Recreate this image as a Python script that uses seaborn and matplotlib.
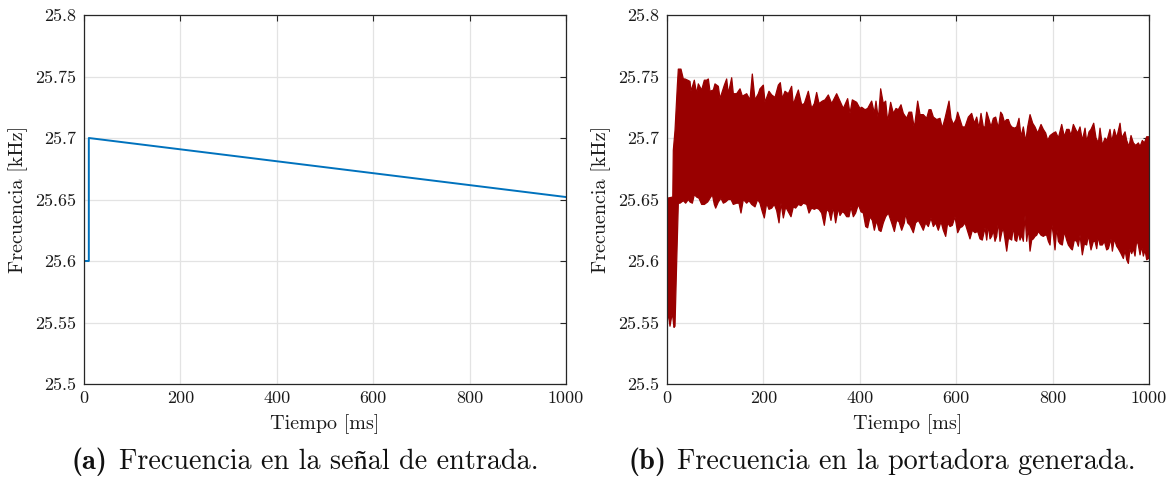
import numpy as np
import pandas as pd
import matplotlib
matplotlib.use("Agg")
import matplotlib.pyplot as plt
from matplotlib.ticker import FuncFormatter
import seaborn as sns

# ---- (a) input signal frequency: step at start, then slow linear drift ----
input_time_ms = [0, 10, 10, 1000]
input_freq_khz = [25.6, 25.6, 25.7, 25.652]

# ---- (b) generated carrier frequency: upper and lower edges of the band ----
carrier_upper_time_ms = [
    0, 12, 13.1, 16.6, 21.4, 23.5, 29.0, 33.9, 37.3, 42.9, 47.7, 49.8, 56.7, 61.5,
    65.0, 71.9, 77.5, 82.3, 85.8, 89.2, 96.1, 99.6, 106.5, 110.0, 119.0, 123.8,
    127.2, 134.2, 137.6, 144.5, 151.5, 156.3, 165.3, 172.2, 177.0, 182.6, 189.5,
    192.9, 199.9, 203.3, 211.6, 217.2, 224.1, 231.0, 235.1, 239.3, 244.8, 251.7,
    258.6, 262.1, 266.9, 272.5, 279.4, 284.9, 293.2, 300.1, 305.7, 310.5, 315.4,
    322.3, 327.8, 334.7, 341.6, 352.0, 358.9, 365.8, 374.8, 379.7, 384.5, 393.5,
    400.4, 403.9, 410.8, 416.3, 424.6, 430.2, 433.6, 438.5, 443.3, 448.8, 453.7,
    457.8, 464.0, 469.6, 475.1, 479.9, 485.5, 490.3, 497.2, 502.1, 507.6, 513.1,
    520.1, 524.9, 531.8, 538.7, 543.6, 547.7, 552.6, 559.5, 566.4, 571.2, 576.8,
    585.1, 589.2, 594.1, 599.6, 603.1, 607.9, 612.7, 618.3, 625.2, 632.1, 637.6,
    642.5, 647.3, 651.5, 656.3, 659.8, 663.3, 668.1, 672.2, 677.1, 681.9, 687.5,
    692.3, 695.8, 699.9, 704.8, 708.2, 711.7, 715.1, 720.7, 725.5, 730.3, 734.5,
    739.3, 744.2, 748.3, 753.2, 758.7, 763.5, 769.1, 776.0, 780.8, 785.7, 789.8,
    794.7, 801.6, 806.4, 812.0, 818.9, 824.4, 829.2, 834.1, 838.2, 843.1, 847.9,
    852.1, 856.9, 861.7, 867.3, 870.7, 875.6, 879.7, 885.3, 890.1, 895.0, 898.4,
    903.2, 908.8, 912.9, 919.1, 922.6, 928.1, 933.0, 939.9, 943.4, 950.3, 953.7,
    958.6, 962.7, 967.6, 972.4, 978.0, 981.4, 986.2, 990.4, 995.2, 1000,
]
carrier_upper_khz = [
    25.651, 25.652, 25.690, 25.706, 25.742, 25.756, 25.756, 25.748, 25.748, 25.747,
    25.746, 25.738, 25.747, 25.736, 25.744, 25.739, 25.747, 25.747, 25.748, 25.738,
    25.739, 25.744, 25.742, 25.732, 25.743, 25.748, 25.736, 25.749, 25.736, 25.736,
    25.740, 25.734, 25.736, 25.731, 25.752, 25.731, 25.736, 25.740, 25.743, 25.729,
    25.738, 25.735, 25.733, 25.743, 25.745, 25.732, 25.738, 25.736, 25.742, 25.727,
    25.733, 25.739, 25.727, 25.728, 25.738, 25.724, 25.728, 25.737, 25.728, 25.730,
    25.731, 25.735, 25.728, 25.736, 25.730, 25.724, 25.732, 25.720, 25.731, 25.729,
    25.724, 25.725, 25.723, 25.724, 25.730, 25.720, 25.730, 25.715, 25.740, 25.728,
    25.730, 25.713, 25.729, 25.720, 25.724, 25.723, 25.727, 25.720, 25.716, 25.721,
    25.721, 25.708, 25.730, 25.719, 25.719, 25.716, 25.723, 25.723, 25.717, 25.715,
    25.716, 25.708, 25.716, 25.730, 25.716, 25.711, 25.715, 25.721, 25.715, 25.709,
    25.709, 25.717, 25.720, 25.712, 25.717, 25.708, 25.720, 25.709, 25.709, 25.721,
    25.715, 25.709, 25.716, 25.717, 25.708, 25.721, 25.719, 25.713, 25.715, 25.715,
    25.711, 25.709, 25.708, 25.709, 25.716, 25.701, 25.709, 25.697, 25.709, 25.719,
    25.712, 25.709, 25.704, 25.711, 25.707, 25.704, 25.698, 25.702, 25.704, 25.705,
    25.700, 25.711, 25.701, 25.707, 25.707, 25.702, 25.711, 25.707, 25.704, 25.709,
    25.698, 25.708, 25.697, 25.705, 25.707, 25.712, 25.700, 25.696, 25.708, 25.694,
    25.700, 25.698, 25.707, 25.697, 25.707, 25.700, 25.712, 25.700, 25.705, 25.698,
    25.693, 25.702, 25.696, 25.694, 25.696, 25.693, 25.698, 25.696, 25.701, 25.701,
]
carrier_lower_time_ms = [
    0, 2.8, 6.2, 11.0, 14.5, 16.6, 20.0, 23.5, 27.0, 33.9, 38.7, 44.3, 47.7, 52.6,
    56.7, 61.5, 66.4, 71.9, 77.5, 84.4, 89.2, 94.1, 98.2, 101.0, 106.5, 112.0,
    116.9, 121.7, 127.2, 132.8, 137.6, 144.5, 149.4, 153.5, 158.4, 165.3, 170.1,
    175.7, 182.6, 188.1, 192.9, 197.8, 201.9, 206.8, 211.6, 217.2, 222.7, 227.5,
    232.4, 236.5, 241.4, 246.2, 251.7, 257.3, 262.1, 266.9, 272.5, 278.0, 282.8,
    289.8, 294.6, 300.1, 305.7, 310.5, 315.4, 320.9, 326.4, 331.3, 336.1, 340.2,
    345.1, 349.9, 355.5, 358.9, 363.8, 367.9, 372.8, 377.6, 381.7, 386.6, 391.4,
    397.0, 402.5, 407.3, 412.2, 416.3, 421.2, 426.0, 430.2, 435.0, 439.8, 444.0,
    448.8, 453.7, 459.2, 462.7, 466.1, 471.7, 476.5, 481.3, 486.9, 492.4, 495.2,
    499.3, 504.2, 511.1, 515.9, 521.4, 527.0, 531.8, 536.7, 542.2, 547.7, 552.6,
    557.4, 562.9, 568.5, 573.3, 578.2, 582.3, 587.2, 592.0, 597.5, 603.1, 607.9,
    612.7, 618.3, 623.8, 628.6, 633.5, 639.0, 644.6, 649.4, 654.2, 659.8, 663.3,
    666.7, 670.2, 673.6, 677.1, 680.5, 684.0, 687.5, 690.9, 694.4, 697.8, 702.7,
    704.8, 708.2, 711.7, 715.1, 718.6, 722.0, 725.5, 729.0, 732.4, 735.9, 739.3,
    742.8, 746.3, 749.7, 753.2, 756.6, 760.1, 763.5, 767.0, 770.5, 776.0, 780.8,
    784.3, 787.7, 791.2, 794.7, 798.1, 801.6, 805.0, 808.5, 812.0, 815.4, 820.2,
    824.4, 829.2, 832.7, 838.2, 841.0, 845.1, 850.0, 853.4, 856.9, 861.7, 865.9,
    870.7, 874.2, 879.7, 884.6, 888.0, 891.5, 894.9, 898.4, 903.2, 907.4, 912.2,
    915.7, 921.2, 924.0, 928.1, 933.0, 936.4, 942.0, 946.8, 950.3, 953.7, 957.2,
    960.6, 964.1, 967.6, 971.0, 974.5, 977.9, 981.4, 984.9, 988.3, 991.8, 995.2,
    998.7, 1000,
]
carrier_lower_khz = [
    25.549, 25.558, 25.547, 25.558, 25.546, 25.547, 25.598, 25.647, 25.647, 25.649,
    25.647, 25.650, 25.648, 25.647, 25.654, 25.652, 25.651, 25.646, 25.646, 25.648,
    25.651, 25.654, 25.646, 25.643, 25.648, 25.651, 25.647, 25.648, 25.650, 25.650,
    25.646, 25.647, 25.647, 25.639, 25.650, 25.647, 25.649, 25.646, 25.644, 25.650,
    25.647, 25.640, 25.635, 25.647, 25.642, 25.643, 25.646, 25.641, 25.631, 25.647,
    25.635, 25.644, 25.640, 25.636, 25.644, 25.643, 25.646, 25.645, 25.647, 25.646,
    25.639, 25.643, 25.642, 25.643, 25.642, 25.639, 25.629, 25.642, 25.640, 25.633,
    25.644, 25.631, 25.643, 25.637, 25.640, 25.639, 25.636, 25.636, 25.644, 25.636,
    25.639, 25.646, 25.640, 25.639, 25.628, 25.627, 25.636, 25.633, 25.625, 25.633,
    25.625, 25.624, 25.631, 25.636, 25.639, 25.635, 25.631, 25.624, 25.633, 25.632,
    25.625, 25.631, 25.639, 25.631, 25.629, 25.623, 25.631, 25.633, 25.629, 25.625,
    25.631, 25.628, 25.635, 25.628, 25.631, 25.625, 25.632, 25.625, 25.620, 25.631,
    25.628, 25.629, 25.636, 25.623, 25.627, 25.628, 25.631, 25.624, 25.618, 25.625,
    25.623, 25.624, 25.618, 25.617, 25.627, 25.617, 25.629, 25.618, 25.620, 25.625,
    25.616, 25.620, 25.632, 25.616, 25.623, 25.627, 25.614, 25.608, 25.618, 25.618,
    25.617, 25.628, 25.617, 25.616, 25.624, 25.617, 25.621, 25.616, 25.637, 25.616,
    25.627, 25.608, 25.617, 25.618, 25.620, 25.621, 25.624, 25.621, 25.620, 25.621,
    25.621, 25.616, 25.613, 25.631, 25.621, 25.609, 25.627, 25.616, 25.614, 25.613,
    25.624, 25.617, 25.613, 25.610, 25.609, 25.617, 25.616, 25.612, 25.621, 25.605,
    25.614, 25.613, 25.621, 25.609, 25.616, 25.616, 25.610, 25.620, 25.613, 25.613,
    25.616, 25.609, 25.610, 25.618, 25.608, 25.618, 25.612, 25.610, 25.606, 25.602,
    25.609, 25.601, 25.598, 25.610, 25.606, 25.610, 25.604, 25.617, 25.613, 25.605,
    25.612, 25.604, 25.609, 25.601, 25.602, 25.602,
]

x_ticks = [0, 200, 400, 600, 800, 1000]
y_ticks = [25.5, 25.55, 25.6, 25.65, 25.7, 25.75, 25.8]
x_label = "Tiempo [ms]"
y_label = "Frecuencia [kHz]"
captions = [("(a)", "Frecuencia en la señal de entrada."),
            ("(b)", "Frecuencia en la portadora generada.")]

BLUE = "#0072BD"
DARK_RED = "#990000"
SPINE = "#262626"
TEXT = "#1a1a1a"

sns.set_theme(style="white")
plt.rcParams["font.family"] = ["cmr10", "STIXGeneral"]
plt.rcParams["axes.formatter.use_mathtext"] = True
plt.rcParams["mathtext.fontset"] = "cm"

W, H = 1173, 479
fig = plt.figure(figsize=(W / 100, H / 100), dpi=100)
ax_a = fig.add_axes([84 / W, 1 - 384 / H, 482 / W, 369 / H])
ax_b = fig.add_axes([667 / W, 1 - 384 / H, 482 / W, 369 / H])

# (a) input frequency
df_in = pd.DataFrame({"t": input_time_ms, "f": input_freq_khz})
sns.lineplot(data=df_in, x="t", y="f", ax=ax_a, color=BLUE, lw=1.4,
             sort=False, estimator=None)

# (b) carrier band: filled between its upper and lower edges
band_t = carrier_upper_time_ms + carrier_lower_time_ms[::-1]
band_f = carrier_upper_khz + carrier_lower_khz[::-1]
ax_b.fill(band_t, band_f, color=DARK_RED, lw=0, zorder=2)
for t, f in ((carrier_upper_time_ms, carrier_upper_khz),
             (carrier_lower_time_ms, carrier_lower_khz)):
    sns.lineplot(x=t, y=f, ax=ax_b, color=DARK_RED, lw=0.9,
                 sort=False, estimator=None, zorder=3)
sns.lineplot(x=[0, 0], y=[carrier_lower_khz[0], carrier_upper_khz[0]], ax=ax_b,
             color=DARK_RED, lw=1.6, sort=False, estimator=None, zorder=3)

for ax in (ax_a, ax_b):
    ax.set_xlim(0, 1000)
    ax.set_ylim(25.5, 25.8)
    ax.set_xticks(x_ticks)
    ax.set_yticks(y_ticks)
    ax.yaxis.set_major_formatter(FuncFormatter(lambda v, _: f"{v:g}"))
    ax.xaxis.set_major_formatter(FuncFormatter(lambda v, _: f"{v:g}"))
    ax.grid(True, color="#e3e3e3", lw=0.9)
    ax.set_axisbelow(True)
    for s in ax.spines.values():
        s.set_visible(True)
        s.set_color(SPINE)
        s.set_linewidth(0.9)
        s.set_zorder(5)
    ax.tick_params(direction="in", length=4.5, width=0.8, color=SPINE,
                   top=True, right=True, labelsize=13, labelcolor=TEXT)
    ax.tick_params(axis="y", pad=6)
    ax.tick_params(axis="x", pad=5)
    ax.set_xlabel(x_label, fontsize=14.5, color=TEXT, labelpad=6)
    ax.set_ylabel(y_label, fontsize=14.5, color=TEXT, labelpad=5)

# sub-figure captions: bold tag followed by the description, centred as a group
renderer = fig.canvas.get_renderer()
GAP = 11
for (tag, text), x_center in zip(captions, (305, 882)):
    t_tag = fig.text(0, 0.035, tag, fontsize=20.5, family="cmb10",
                     ha="left", va="center", color="#111111")
    t_txt = fig.text(0, 0.035, text, fontsize=20.3, ha="left",
                     va="center", color="#111111")
    w_tag = t_tag.get_window_extent(renderer).width
    w_txt = t_txt.get_window_extent(renderer).width
    x0 = x_center - (w_tag + GAP + w_txt) / 2
    t_tag.set_x(x0 / W)
    t_txt.set_x((x0 + w_tag + GAP) / W)

fig.savefig("out.png", dpi=100)
